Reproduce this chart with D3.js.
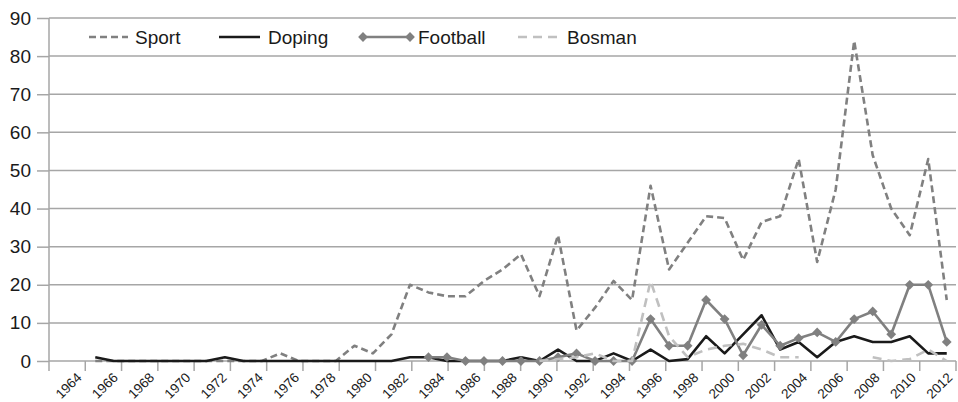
<!DOCTYPE html>
<html>
<head>
<meta charset="utf-8">
<script src="https://cdn.jsdelivr.net/npm/d3@7"></script>
<style>
  body { margin: 0; background: #fff; }
  text { font-family: "Liberation Sans", Arial, sans-serif; fill: #1a1a1a; }
</style>
</head>
<body>
<div id="viz"></div>
<script>
const years = d3.range(1964, 2013);
const labelYears = d3.range(1964, 2013, 2);
const yTicks = [0, 10, 20, 30, 40, 50, 60, 70, 80, 90];

// 1964 ... 2012, null = no point
const sport = [null, null, 0, 0, 0, 0, 0, 0, 0, 0, 0, 0, 2, 0, 0, 0, 4, 2, 7, 20,
  18, 17, 17, 21, 24, 28, 17, 33, 8, 14, 21, 16, 46, 24, 31, 38, 37.5, 26.5, 36.5, 38,
  53, 26, 45, 84, 54, 40, 33, 53, 16];
const doping = [null, null, 1, 0, 0, 0, 0, 0, 0, 1, 0, 0, 0, 0, 0, 0, 0, 0, 0, 1,
  1, 0, 0, 0, 0, 1, 0, 3, 0, 0, 2, 0, 3, 0, 0.5, 6.5, 2, 7, 12, 3,
  5, 1, 5, 6.5, 5, 5, 6.5, 2, 2];
const football = [null, null, null, null, null, null, null, null, null, null, null, null, null, null, null, null, null, null, null, null,
  1, 1, 0, 0, 0, 0, 0, 1, 2, 0, 0, 0, 11, 4, 4, 16, 11, 1.5, 9.5, 4,
  6, 7.5, 5, 11, 13, 7, 20, 20, 5];
const bosman = [null, null, null, null, null, null, null, null, null, null, null, null, null, null, null, null, null, null, null, null,
  null, null, null, null, null, null, 0, 0.5, 1, 2, 0, 0, 21, 6.5, 1, 3, 4, 4.5, 3, 1,
  1, null, null, null, 1, 0, 0.5, 3, 0];

const width = 958;
const height = 402;
const plotLeft = 49;
const plotRight = 956;
const plotTop = 18;
const plotBottom = 361;

const svg = d3.select('#viz')
      .append('svg')
      .attr('width', width)
      .attr('height', height);

const x = d3.scaleBand().domain(years).range([plotLeft, plotRight]);
const xl = d3.scaleBand().domain(labelYears).range([plotLeft, plotRight]);
const y = d3.scaleLinear().domain([0, 90]).range([plotBottom, plotTop]);
const cx = yr => x(yr) + x.bandwidth() / 2;

// gridlines + y axis
const yAxis = svg.append('g')
      .attr('transform', `translate(${plotLeft} 0)`)
      .call(d3.axisLeft(y).tickValues(yTicks).tickSize(12).tickPadding(6).tickFormat(d3.format('d')));
yAxis.select('.domain').remove();
yAxis.selectAll('.tick line').attr('stroke', '#a6a6a6').attr('stroke-width', 1.5);
yAxis.selectAll('.tick text').attr('font-size', 19).attr('fill', '#1a1a1a')
    .attr('font-family', '"Liberation Sans", Arial, sans-serif');

svg.append('g').selectAll('line')
    .data(yTicks.filter(d => d > 0))
    .join('line')
    .attr('x1', plotLeft).attr('x2', plotRight)
    .attr('y1', d => y(d)).attr('y2', d => y(d))
    .attr('stroke', '#a6a6a6')
    .attr('stroke-width', 1.5);

svg.append('line')
    .attr('x1', plotLeft).attr('x2', plotLeft)
    .attr('y1', plotTop).attr('y2', plotBottom)
    .attr('stroke', '#a6a6a6').attr('stroke-width', 1.5);

// x axis
svg.append('line')
    .attr('x1', plotLeft).attr('x2', plotRight)
    .attr('y1', plotBottom).attr('y2', plotBottom)
    .attr('stroke', '#a6a6a6').attr('stroke-width', 1.5);

svg.append('g').selectAll('line')
    .data(labelYears.map(d => xl(d)).concat([plotRight]))
    .join('line')
    .attr('x1', d => d).attr('x2', d => d)
    .attr('y1', plotBottom).attr('y2', plotBottom + 10)
    .attr('stroke', '#a6a6a6').attr('stroke-width', 1.5);

svg.append('g').selectAll('text')
    .data(labelYears)
    .join('text')
    .attr('transform', d => `translate(${xl(d) + xl.bandwidth() / 2 + 12} 375) rotate(-45)`)
    .attr('text-anchor', 'end')
    .attr('dy', '0.35em')
    .attr('font-size', 13.5)
    .text(d => d);

// series
const series = [
  {name: 'Sport', values: sport, color: '#808080', dash: '7,4', marker: false},
  {name: 'Doping', values: doping, color: '#1a1a1a', dash: null, marker: false},
  {name: 'Football', values: football, color: '#808080', dash: null, marker: true},
  {name: 'Bosman', values: bosman, color: '#c0c0c0', dash: '9,6', marker: false}
];

const line = d3.line()
      .defined(d => d.v != null)
      .x(d => cx(d.year))
      .y(d => y(d.v));

const diamond = d3.symbol().type(d3.symbolSquare).size(48);

series.forEach(s => {
  const pts = years.map((yr, i) => ({year: yr, v: s.values[i]}));
  svg.append('path')
      .datum(pts)
      .attr('d', line)
      .attr('fill', 'none')
      .attr('stroke', s.color)
      .attr('stroke-width', 2.6)
      .attr('stroke-linejoin', 'round')
      .attr('stroke-dasharray', s.dash);
  if (s.marker) {
    svg.append('g').selectAll('path')
        .data(pts.filter(d => d.v != null))
        .join('path')
        .attr('d', diamond)
        .attr('transform', d => `translate(${cx(d.year)} ${y(d.v)}) rotate(45)`)
        .attr('fill', s.color);
  }
});

// legend
const legendItems = [
  {s: series[0], x1: 89, x2: 128, tx: 135},
  {s: series[1], x1: 219, x2: 260, tx: 268},
  {s: series[2], x1: 363, x2: 410, tx: 418},
  {s: series[3], x1: 518, x2: 558, tx: 567}
];
const legend = svg.append('g');
legendItems.forEach(it => {
  legend.append('line')
      .attr('x1', it.x1).attr('x2', it.x2)
      .attr('y1', 37).attr('y2', 37)
      .attr('stroke', it.s.color)
      .attr('stroke-width', 2.6)
      .attr('stroke-dasharray', it.s.dash);
  if (it.s.marker) {
    [it.x1, it.x2].forEach(px => {
      legend.append('path')
          .attr('d', diamond)
          .attr('transform', `translate(${px} 37) rotate(45)`)
          .attr('fill', it.s.color);
    });
  }
  legend.append('text')
      .attr('x', it.tx)
      .attr('y', 37)
      .attr('dy', '0.35em')
      .attr('font-size', 19)
      .text(it.s.name);
});
</script>
</body>
</html>
